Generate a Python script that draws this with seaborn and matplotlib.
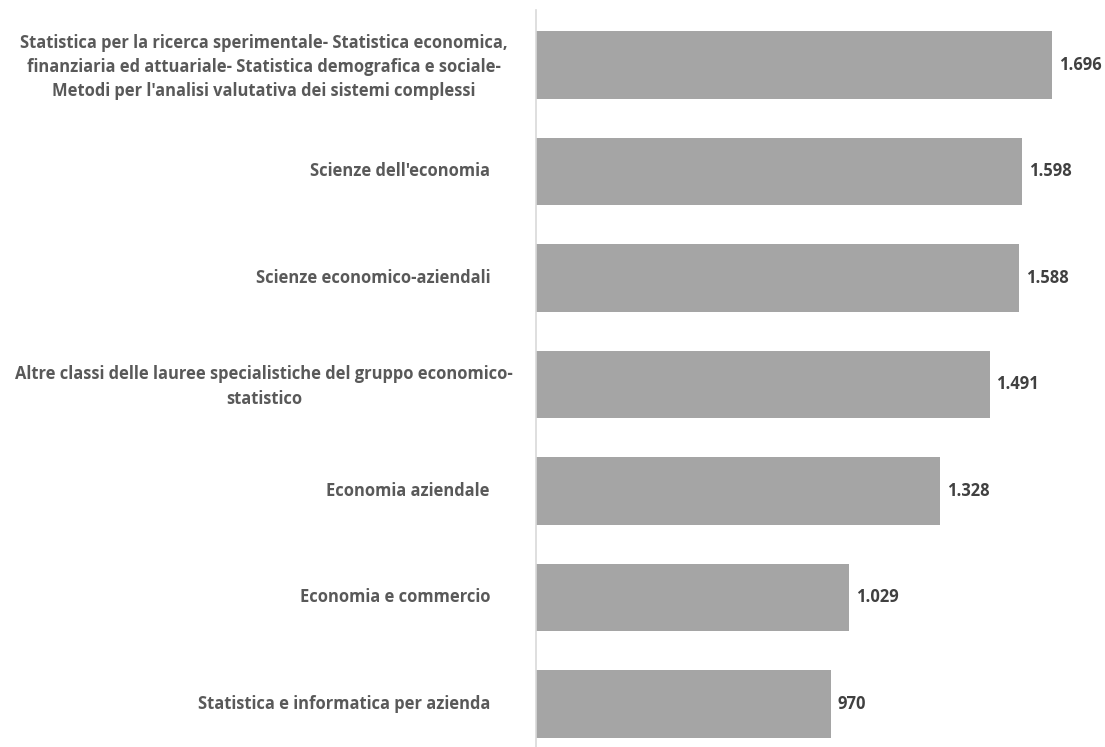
import matplotlib
matplotlib.use("Agg")
import matplotlib.pyplot as plt
import seaborn as sns
import pandas as pd

categorie = [
    "Statistica per la ricerca sperimentale- Statistica economica,\nfinanziaria ed attuariale- Statistica demografica e sociale-\nMetodi per l'analisi valutativa dei sistemi complessi",
    "Scienze dell'economia",
    "Scienze economico-aziendali",
    "Altre classi delle lauree specialistiche del gruppo economico-\nstatistico",
    "Economia aziendale",
    "Economia e commercio",
    "Statistica e informatica per azienda",
]
valori = [1696, 1598, 1588, 1491, 1328, 1029, 970]

df = pd.DataFrame({"classe": categorie, "valore": valori})

sns.set_theme(style="white")
plt.rcParams["font.family"] = ["Open Sans", "DejaVu Sans"]

fig = plt.figure(figsize=(11.05, 7.47), dpi=100)
ax = fig.add_axes([536 / 1105, 0, 1 - 536 / 1105, 737 / 747])

sns.barplot(data=df, x="valore", y="classe", orient="h", color="#a5a5a5",
            saturation=1, width=0.63, ax=ax, edgecolor="none")

ax.set_xlim(0, 1870)
ax.set_ylim(6.404, -0.516)

# value labels at the end of each bar (Italian thousands separator)
for i, v in enumerate(valori):
    testo = f"{v:,}".replace(",", ".")
    ax.text(v + 22, i, testo, va="center", ha="left", fontsize=11.9,
            fontweight="bold", color="#404040")

# category labels: wrapped ones are centred in a wider box
ax.set_yticklabels([])
for i, nome in enumerate(categorie):
    if "\n" in nome:
        ax.annotate(nome, xy=(0, i), xycoords=("axes fraction", "data"),
                    xytext=(-272, -2), textcoords="offset pixels",
                    ha="center", va="center", multialignment="center",
                    linespacing=1.45, fontsize=11.9, fontweight="bold",
                    color="#595959")
    else:
        ax.annotate(nome, xy=(0, i), xycoords=("axes fraction", "data"),
                    xytext=(-46, 0), textcoords="offset pixels",
                    ha="right", va="center", fontsize=11.9,
                    fontweight="bold", color="#595959")

ax.set_xlabel("")
ax.set_ylabel("")
ax.set_xticks([])
ax.tick_params(axis="y", length=0)

for s in ["top", "right", "bottom"]:
    ax.spines[s].set_visible(False)
ax.spines["left"].set_color("#d9d9d9")
ax.spines["left"].set_linewidth(1.2)

fig.savefig("out.png", dpi=100, facecolor="white")
